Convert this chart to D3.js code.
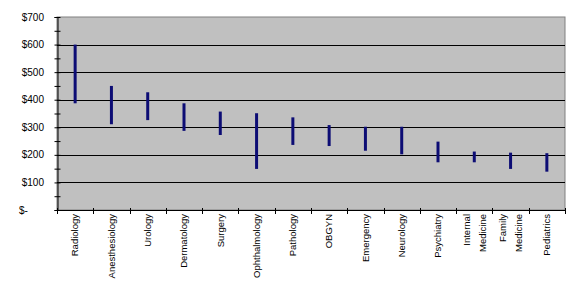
<!DOCTYPE html>
<html><head><meta charset="utf-8">
<script src="https://cdn.jsdelivr.net/npm/d3@7"></script>
<style>html,body{margin:0;padding:0;background:#fff;}svg{display:block;}</style>
</head><body>
<svg id="c" width="578" height="293"></svg>
<script>
const categories = ["Radiology","Anesthesiology","Urology","Dermatology","Surgery","Ophthalmology","Pathology","OBGYN","Emergency","Neurology","Psychiatry","Internal Medicine","Family Medicine","Pediatrics"];
const labelLines = [["Radiology"],["Anesthesiology"],["Urology"],["Dermatology"],["Surgery"],["Ophthalmology"],["Pathology"],["OBGYN"],["Emergency"],["Neurology"],["Psychiatry"],["Internal","Medicine"],["Family","Medicine"],["Pediatrics"]];
const highValues = [600,450,427,387,357,351,336,308,302,302,248,212,208,206];
const lowValues  = [387,311,326,287,272,149,236,232,215,202,173,173,149,139];
const yTickValues = [0,100,200,300,400,500,600,700];
const yTickLabels = ["$-","$100","$200","$300","$400","$500","$600","$700"];

const svg = d3.select("#c");
const L = 57, R = 565, T = 17, B = 210;
const x = d3.scaleBand().domain(categories).range([L, R]).padding(0);
const y = d3.scaleLinear().domain([0, 700]).range([B, T]);

svg.append("rect").attr("x", L).attr("y", T).attr("width", R - L).attr("height", B - T)
  .attr("fill", "#c0c0c0").attr("stroke", "#808080").attr("stroke-width", 1);

// gridlines
svg.append("g").selectAll("line").data(yTickValues.filter(v => v > 0 && v < 700)).join("line")
  .attr("x1", L).attr("x2", R)
  .attr("y1", d => Math.round(y(d)) + 0.5).attr("y2", d => Math.round(y(d)) + 0.5)
  .attr("stroke", "#000").attr("stroke-width", 1);

// y axis
const yAxis = d3.axisLeft(y).tickValues(d3.range(0, 701, 50)).tickSize(3).tickFormat("");
const gy = svg.append("g").attr("transform", `translate(${L + 0.5},0)`).call(yAxis);
gy.select(".domain").attr("stroke", "#000");
gy.selectAll(".tick line").attr("x2", -3).attr("x1", 3).attr("stroke", "#000");

svg.append("g").selectAll("text").data(yTickValues).join("text")
  .attr("x", (d, i) => d === 0 ? 19 : 44)
  .attr("text-anchor", d => d === 0 ? "start" : "end")
  .attr("y", d => y(d)).attr("dy", "0.35em")
  .attr("font-family", "Liberation Sans, Arial, sans-serif").attr("font-size", 10)
  .attr("fill", "#000")
  .text((d, i) => yTickLabels[i]);

// x axis
svg.append("line").attr("x1", L).attr("x2", R).attr("y1", B + 0.5).attr("y2", B + 0.5).attr("stroke", "#000");
const bounds = categories.map(c => x(c)).concat([R]);
svg.append("g").selectAll("line").data(bounds).join("line")
  .attr("x1", d => Math.round(d) + 0.5).attr("x2", d => Math.round(d) + 0.5)
  .attr("y1", B - 2).attr("y2", B + 4).attr("stroke", "#000");

// range bars
svg.append("g").selectAll("line").data(categories).join("line")
  .attr("x1", d => x(d) + x.bandwidth() / 2).attr("x2", d => x(d) + x.bandwidth() / 2)
  .attr("y1", (d, i) => y(highValues[i])).attr("y2", (d, i) => y(lowValues[i]))
  .attr("stroke", "#0c0c74").attr("stroke-width", 3);

// x labels
const lg = svg.append("g");
categories.forEach((c, i) => {
  const lines = labelLines[i];
  const cx = x(c) + x.bandwidth() / 2;
  lines.forEach((t, j) => {
    const off = (j - (lines.length - 1) / 2) * 16;
    lg.append("text")
      .attr("transform", `translate(${cx + off},${B + 4}) rotate(-90)`)
      .attr("text-anchor", "end").attr("dy", "0.35em")
      .attr("font-family", "Liberation Sans, Arial, sans-serif").attr("font-size", 9.5)
      .attr("fill", "#000").text(t);
  });
});
</script>
</body></html>
